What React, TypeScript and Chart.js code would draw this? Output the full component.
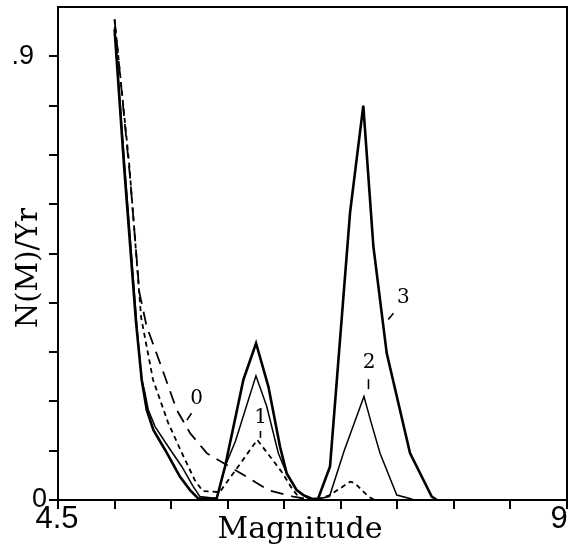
import React, { useEffect, useRef } from "react";
import { Chart, registerables } from "chart.js";

Chart.register(...registerables);

// ---- Data (magnitude M vs annual rate N(M)/Yr) ----
// Curve 0 (long dashed)
const curve0M = [5.0, 5.135, 5.22, 5.284, 5.402, 5.549, 5.667, 5.815, 5.992, 6.168, 6.36, 6.578, 6.75];
const curve0N = [0.975, 0.66, 0.42, 0.352, 0.278, 0.183, 0.136, 0.095, 0.071, 0.047, 0.02, 0.007, 0.0];

// Curve 1 (short dashed)
const curve1M = [5.0, 5.13, 5.235, 5.34, 5.473, 5.594, 5.71, 5.78, 5.93, 6.262, 6.478, 6.578, 6.65, 6.817, 6.905, 7.082, 7.126, 7.244, 7.3];
const curve1N = [0.975, 0.68, 0.37, 0.244, 0.157, 0.096, 0.04, 0.018, 0.016, 0.122, 0.057, 0.02, 0.0, 0.003, 0.01, 0.037, 0.034, 0.007, 0.0];

// Curve 2 (thin solid)
const curve2M = [5.0, 5.09, 5.2, 5.24, 5.269, 5.298, 5.358, 5.475, 5.594, 5.696, 5.755, 5.903, 5.977, 6.07, 6.25, 6.345, 6.448, 6.522, 6.61, 6.7, 6.75, 6.9, 7.03, 7.205, 7.27, 7.347, 7.495, 7.61, 7.65];
const curve2N = [0.96, 0.677, 0.345, 0.244, 0.217, 0.183, 0.149, 0.108, 0.068, 0.027, 0.007, 0.003, 0.068, 0.12, 0.252, 0.19, 0.095, 0.054, 0.02, 0.005, 0.0, 0.007, 0.1, 0.21, 0.156, 0.095, 0.01, 0.003, 0.0];

// Curve 3 (thick solid)
const curve3M = [5.0, 5.084, 5.19, 5.24, 5.284, 5.343, 5.446, 5.579, 5.667, 5.74, 5.903, 5.977, 6.139, 6.251, 6.36, 6.463, 6.522, 6.61, 6.669, 6.75, 6.8, 6.905, 7.082, 7.199, 7.288, 7.406, 7.612, 7.804, 7.85];
const curve3N = [0.955, 0.677, 0.36, 0.244, 0.183, 0.142, 0.102, 0.047, 0.02, 0.003, 0.003, 0.068, 0.244, 0.318, 0.23, 0.108, 0.054, 0.02, 0.01, 0.002, 0.003, 0.068, 0.583, 0.8, 0.515, 0.298, 0.095, 0.007, 0.0];

// Tick labels shown on the axes
const xTickValues = [4.5, 9];
const xTickLabels = ["4.5", "9"];
const yTickValues = [0, 0.9];
const yTickLabels = ["0", ".9"];

// Curve labels (text) with leader lines, in data coordinates
const curveLabelText = ["0", "1", "2", "3"];
const curveLabelM = [5.726, 6.292, 7.25, 7.553];
const curveLabelN = [0.205, 0.166, 0.279, 0.41];
const leaderFromM = [5.68, 6.29, 7.245, 7.465];
const leaderFromN = [0.176, 0.14, 0.245, 0.379];
const leaderToM = [5.64, 6.29, 7.245, 7.42];
const leaderToN = [0.162, 0.126, 0.225, 0.366];

function toPoints(m: number[], n: number[]) {
  return m.map((x, i) => ({ x, y: n[i] }));
}

export default function App() {
  const ref = useRef<HTMLCanvasElement>(null);

  useEffect(() => {
    const overlay = {
      id: "overlay",
      beforeDraw(chart: any) {
        const ctx = chart.ctx;
        ctx.save();
        ctx.fillStyle = "#fff";
        ctx.fillRect(0, 0, chart.width, chart.height);
        ctx.restore();
      },
      afterDraw(chart: any) {
        const ctx = chart.ctx;
        const a = chart.chartArea;
        const xs = chart.scales.x;
        const ys = chart.scales.y;
        ctx.save();
        // frame: top and right
        ctx.strokeStyle = "#000";
        ctx.lineWidth = 2;
        ctx.beginPath();
        ctx.moveTo(a.left, a.top);
        ctx.lineTo(a.right, a.top);
        ctx.lineTo(a.right, a.bottom);
        ctx.stroke();

        // y tick labels
        ctx.fillStyle = "#000";
        ctx.font = "27px 'Liberation Sans', Arial, sans-serif";
        ctx.textBaseline = "middle";
        ctx.textAlign = "right";
        yTickValues.forEach((v, i) => {
          const py = ys.getPixelForValue(v);
          const px = v === 0 ? a.left - 11 : a.left - 24;
          ctx.fillText(yTickLabels[i], px, py);
        });

        // x tick labels
        ctx.font = "31px 'Liberation Sans', Arial, sans-serif";
        ctx.textBaseline = "top";
        ctx.textAlign = "center";
        xTickValues.forEach((v, i) => {
          const px = xs.getPixelForValue(v);
          const off = i === xTickValues.length - 1 ? -8 : -1;
          ctx.fillText(xTickLabels[i], px + off, a.bottom + 4);
        });

        // axis titles
        ctx.font = "30px 'DejaVu Serif', serif";
        ctx.textBaseline = "alphabetic";
        ctx.textAlign = "center";
        ctx.fillText("Magnitude", 300, 538);

        ctx.save();
        ctx.translate(37, 268);
        ctx.rotate(-Math.PI / 2);
        ctx.font = "29px 'DejaVu Serif', serif";
        ctx.textAlign = "center";
        ctx.textBaseline = "alphabetic";
        ctx.fillText("N(M)/Yr", 0, 0);
        ctx.restore();

        // curve labels + leaders
        ctx.font = "20px 'DejaVu Serif', serif";
        ctx.textAlign = "center";
        ctx.textBaseline = "middle";
        ctx.lineWidth = 1.6;
        curveLabelText.forEach((t, i) => {
          ctx.fillText(t, xs.getPixelForValue(curveLabelM[i]), ys.getPixelForValue(curveLabelN[i]));
          ctx.beginPath();
          ctx.moveTo(xs.getPixelForValue(leaderFromM[i]), ys.getPixelForValue(leaderFromN[i]));
          ctx.lineTo(xs.getPixelForValue(leaderToM[i]), ys.getPixelForValue(leaderToN[i]));
          ctx.stroke();
        });
        ctx.restore();
      },
    };

    const common = {
      pointRadius: 0,
      borderColor: "#000",
      backgroundColor: "#000",
      fill: false,
      tension: 0,
    };

    const chart = new Chart(ref.current as HTMLCanvasElement, {
      type: "line",
      data: {
        datasets: [
          { ...common, label: "0", data: toPoints(curve0M, curve0N), borderWidth: 1.8, borderDash: [13, 8] },
          { ...common, label: "1", data: toPoints(curve1M, curve1N), borderWidth: 1.8, borderDash: [5, 4] },
          { ...common, label: "2", data: toPoints(curve2M, curve2N), borderWidth: 1.5 },
          { ...common, label: "3", data: toPoints(curve3M, curve3N), borderWidth: 2.6 },
        ],
      },
      options: {
        responsive: false,
        animation: false,
        events: [],
        layout: { padding: { left: 0, top: 7, right: 7, bottom: 0 } },
        plugins: { legend: { display: false }, tooltip: { enabled: false }, title: { display: false } },
        scales: {
          x: {
            type: "linear",
            min: 4.5,
            max: 9,
            ticks: { stepSize: 0.5, display: false },
            grid: { drawOnChartArea: false, drawTicks: true, tickLength: 9, color: "#000", lineWidth: 2 },
            border: { display: true, color: "#000", width: 2 },
            afterFit(s: any) {
              s.height = 48;
            },
          },
          y: {
            type: "linear",
            min: 0,
            max: 1,
            ticks: { stepSize: 0.1, display: false },
            grid: {
              drawOnChartArea: false,
              drawTicks: true,
              tickLength: 9,
              lineWidth: 2,
              color: (c: any) => (c.tick && c.tick.value > 0.95 ? "rgba(0,0,0,0)" : "#000"),
            },
            border: { display: true, color: "#000", width: 2 },
            afterFit(s: any) {
              s.width = 58;
            },
          },
        },
      },
      plugins: [overlay],
    } as any);

    return () => chart.destroy();
  }, []);

  return (
    <div style={{ position: "absolute", left: 0, top: 0, width: 574, height: 548 }}>
      <canvas ref={ref} width={574} height={548} style={{ width: 574, height: 548, display: "block" }} />
    </div>
  );
}
